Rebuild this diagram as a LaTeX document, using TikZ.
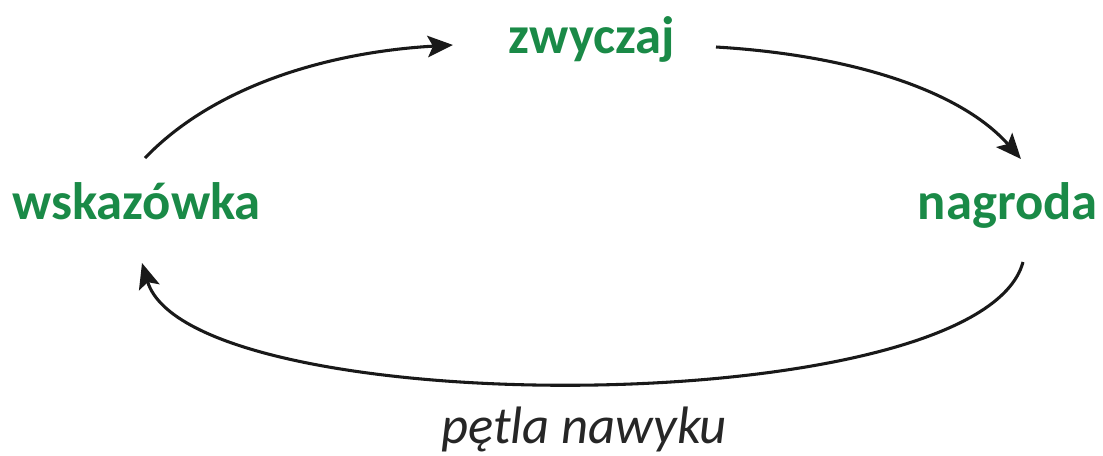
\documentclass[tikz,border=0pt]{standalone}
\usepackage{fontspec}
\setmainfont{Carlito}
\usetikzlibrary{arrows.meta}
\definecolor{habitgreen}{HTML}{1A8A47}
\tikzset{
  lbl/.style={text=habitgreen, font=\fontsize{39.5}{46}\selectfont\bfseries, inner sep=0pt},
  loop/.style={line width=2.3pt, draw=black!90, -{Stealth[length=19pt,width=16pt,inset=4pt]}},
}
\begin{document}
\begin{tikzpicture}[x=0.75pt,y=-0.75pt]
\useasboundingbox (0,0) rectangle (1103,455);
\node[lbl, anchor=base] (hab) at (592,53) {zwyczaj};
\node[lbl, anchor=base west] (cue) at (12,219) {wskazówka};
\node[lbl, anchor=base east] (rew) at (1098,219) {nagroda};
\node[font=\fontsize{39.5}{46}\selectfont\itshape, text=black!85, anchor=base, inner sep=0pt] (cap) at (584,443) {pętla nawyku};
\coordinate (a1s) at (145,158);
\coordinate (a1e) at (453,45);
\coordinate (a2s) at (716,47);
\coordinate (a2e) at (1021,159);
\coordinate (a3s) at (1023,262);
\coordinate (a3e) at (142,263);
\draw[loop] (a1s) .. controls (215,85) and (330,52) .. (a1e);
\draw[loop] (a2s) .. controls (850,55) and (960,90) .. (a2e);
\draw[loop] (a3s) .. controls (980,423) and (190,423) .. (a3e);
\end{tikzpicture}
\end{document}
